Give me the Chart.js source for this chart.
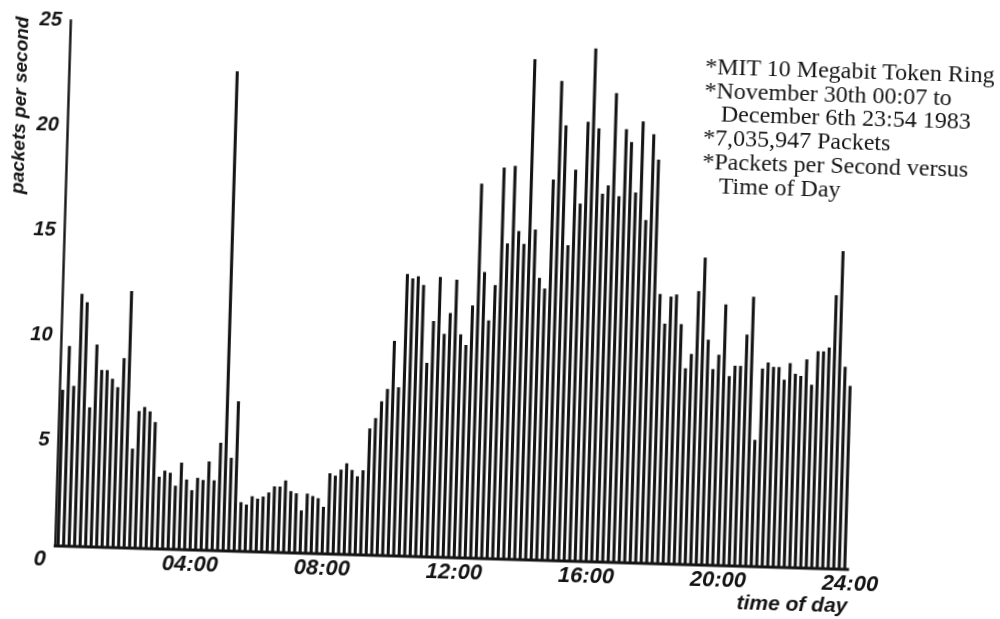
<!DOCTYPE html>
<html>
<head>
<meta charset="utf-8">
<script src="https://cdn.jsdelivr.net/npm/chart.js@4.4.1/dist/chart.umd.min.js"></script>
<style>
  html, body { margin: 0; padding: 0; background: #ffffff; width: 1000px; height: 619px; overflow: hidden; }
  #wrap { position: absolute; left: 0; top: 0; width: 1000px; height: 619px;
          transform: rotate(1.7deg); transform-origin: 500px 309.5px; }
  #c { position: absolute; left: 0; top: 0; }
  #note { position: absolute; left: 698px; top: 49px; font-family: "Liberation Serif", "Times New Roman", serif;
          font-size: 24px; line-height: 23.7px; color: #151515; white-space: nowrap; }
  #note .in { padding-left: 17px; }
</style>
</head>
<body>
<div id="wrap">
  <canvas id="c" width="1000" height="619"></canvas>
  <div id="note">
    <div>*MIT 10 Megabit Token Ring</div>
    <div>*November 30th 00:07 to</div>
    <div class="in">December 6th 23:54 1983</div>
    <div>*7,035,947 Packets</div>
    <div>*Packets per Second versus</div>
    <div class="in">Time of Day</div>
  </div>
</div>
<script>
// ---- data: packets per second, one bar per 10-minute bin ----
const BIN_MINUTES = 10;
const HOURS_PER_DAY = 24;
const pps_00_04 = [7.4, 9.5, 7.6, 12.0, 11.6, 6.6, 9.6, 8.4, 8.4, 8.0, 7.6, 9.0,
                   12.2, 4.7, 6.5, 6.7, 6.5, 6.0, 3.4, 3.7, 3.6, 3.0, 4.1, 3.3];
const pps_04_08 = [2.8, 3.4, 3.3, 4.2, 3.3, 5.1, 22.8, 4.4, 7.1, 2.3, 2.2, 2.6,
                   2.5, 2.6, 2.8, 3.1, 3.1, 3.4, 2.9, 2.8, 2.0, 2.8, 2.7, 2.6];
const pps_08_12 = [2.2, 3.8, 3.7, 4.0, 4.3, 4.0, 3.7, 4.0, 6.0, 6.5, 7.3, 7.9,
                   10.2, 8.0, 13.4, 13.2, 13.3, 12.9, 9.2, 11.2, 13.3, 10.6, 11.6, 13.2];
const pps_12_16 = [10.6, 10.1, 12.0, 17.8, 13.6, 11.3, 13.0, 18.6, 15.0, 18.7, 15.6, 15.0,
                   23.8, 15.7, 13.4, 12.9, 18.1, 22.8, 20.7, 15.0, 18.6, 17.0, 20.9, 24.4];
const pps_16_20 = [20.6, 17.5, 17.9, 22.3, 17.4, 20.6, 20.0, 17.6, 21.0, 16.3, 20.4, 19.2,
                   12.8, 11.4, 12.7, 12.8, 11.4, 9.3, 10.0, 13.0, 14.6, 10.7, 9.3, 10.0];
const pps_20_24 = [12.4, 9.0, 9.5, 9.5, 11.0, 12.8, 6.0, 9.4, 9.7, 9.5, 9.5, 8.9,
                   9.7, 9.2, 9.1, 9.9, 8.7, 10.3, 10.3, 10.5, 13.0, 15.1, 9.6, 8.7];

const X_TICK_HOURS  = [4, 8, 12, 16, 20, 24];
const X_TICK_LABELS = ['04:00', '08:00', '12:00', '16:00', '20:00', '24:00'];
const Y_TICKS       = [5, 10, 15, 20, 25];
const ORIGIN_LABEL  = '0';
const X_TITLE = 'time of day';
const Y_TITLE = 'packets per second';

const PACKETS_PER_SECOND = [].concat(pps_00_04, pps_04_08, pps_08_12, pps_12_16, pps_16_20, pps_20_24);
const pad2 = n => String(n).padStart(2, '0');
const TIME_BINS = PACKETS_PER_SECOND.map((_, i) => {
  const m = i * BIN_MINUTES;
  return pad2(Math.floor(m / 60)) + ':' + pad2(m % 60);
});

const INK = '#141414';
const axesPlugin = {
  id: 'scanAxes',
  afterDatasetsDraw(chart) {
    const ctx = chart.ctx;
    const xs = chart.scales.x;
    const ys = chart.scales.y;
    const hourPx = h => xs.left + (h / HOURS_PER_DAY) * (xs.right - xs.left);
    const y0 = ys.getPixelForValue(0);
    const left = hourPx(0);
    ctx.save();
    ctx.strokeStyle = INK;
    ctx.lineCap = 'square';
    // y axis
    ctx.lineWidth = 2.4;
    ctx.beginPath();
    ctx.moveTo(left, y0);
    ctx.lineTo(left, ys.getPixelForValue(25));
    ctx.stroke();
    // x axis
    ctx.lineWidth = 3.2;
    ctx.beginPath();
    ctx.moveTo(left, y0 + 0.5);
    ctx.lineTo(hourPx(24), y0 + 0.5);
    ctx.stroke();

    ctx.fillStyle = INK;
    // y tick labels
    ctx.font = 'italic bold 20px "Liberation Sans", Arial, sans-serif';
    ctx.textAlign = 'right';
    ctx.textBaseline = 'middle';
    Y_TICKS.forEach(v => ctx.fillText(String(v), left - 9, ys.getPixelForValue(v)));
    // origin + x tick labels
    ctx.font = 'italic bold 22px "Liberation Sans", Arial, sans-serif';
    ctx.fillText(ORIGIN_LABEL, left - 9, y0 + 14);
    ctx.textAlign = 'center';
    X_TICK_HOURS.forEach((h, i) => ctx.fillText(X_TICK_LABELS[i], hourPx(h) + 3, y0 + 15));
    // x title
    ctx.font = 'italic bold 21px "Liberation Sans", Arial, sans-serif';
    ctx.textAlign = 'right';
    ctx.fillText(X_TITLE, hourPx(24) + 1, y0 + 38);
    // y title
    ctx.save();
    ctx.translate(left - 48, chart.chartArea.top + 86);
    ctx.rotate(-Math.PI / 2);
    ctx.textAlign = 'center';
    ctx.font = 'italic bold 19px "Liberation Sans", Arial, sans-serif';
    ctx.fillText(Y_TITLE, 0, 0);
    ctx.restore();
    ctx.restore();
  }
};

new Chart(document.getElementById('c').getContext('2d'), {
  type: 'bar',
  data: {
    labels: TIME_BINS,
    datasets: [{
      data: PACKETS_PER_SECOND,
      backgroundColor: INK,
      borderWidth: 0,
      barThickness: 2.4
    }]
  },
  options: {
    responsive: false,
    animation: false,
    devicePixelRatio: 1,
    layout: { padding: { left: 62.5, right: 145, top: 33.5, bottom: 60.5 } },
    plugins: { legend: { display: false }, tooltip: { enabled: false } },
    scales: {
      x: { display: false, offset: true },
      y: { display: false, min: 0, max: 25 }
    }
  },
  plugins: [axesPlugin]
});
</script>
</body>
</html>
